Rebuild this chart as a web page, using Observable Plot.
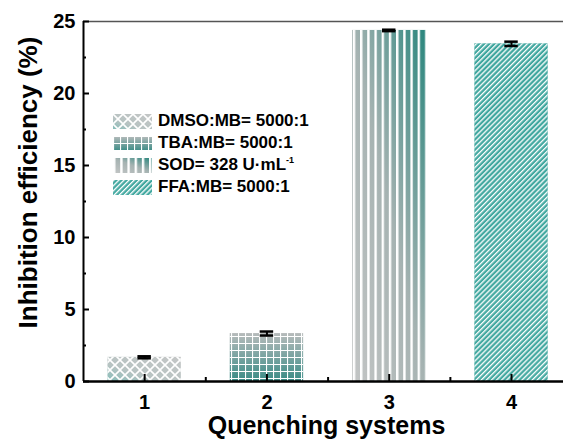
<!DOCTYPE html>
<html><head><meta charset="utf-8">
<script src="https://cdn.jsdelivr.net/npm/d3@7"></script>
<script src="https://cdn.jsdelivr.net/npm/@observablehq/plot@0.6"></script>
<style>
body{margin:0;background:#fff;font-family:"Liberation Sans",Arial,sans-serif}
#wrap{position:relative;width:563px;height:441px;overflow:hidden}
#legend{position:absolute;left:113px;top:110px;font-weight:bold;font-size:17px;color:#000}
.row{display:flex;align-items:center;height:22px;white-space:nowrap}
.row svg{margin-right:6px;flex:none}
sup{font-size:9px;vertical-align:7px}
</style></head><body>
<svg width="0" height="0" style="position:absolute">
<defs>
  <linearGradient id="grad1" x1="0" y1="1" x2="1" y2="0">
    <stop offset="0" stop-color="#86bdb9"/><stop offset="0.35" stop-color="#b7c3c2"/><stop offset="1" stop-color="#c4c6c6"/>
  </linearGradient>
  <linearGradient id="grad2" x1="0" y1="0" x2="0" y2="1">
    <stop offset="0" stop-color="#b7bbbb"/><stop offset="1" stop-color="#3a8c86"/>
  </linearGradient>
  <linearGradient id="grad3" x1="0" y1="1" x2="1" y2="0">
    <stop offset="0" stop-color="#c3c5c5"/><stop offset="0.5" stop-color="#a6b3b2"/><stop offset="1" stop-color="#2a867d"/>
  </linearGradient>
  <linearGradient id="grad4" x1="0" y1="0" x2="0" y2="1">
    <stop offset="0" stop-color="#3fa69e"/><stop offset="1" stop-color="#46aaa2"/>
  </linearGradient>
  <pattern id="pat1" patternUnits="userSpaceOnUse" width="10" height="10">
    <path d="M0,0L10,10M10,0L0,10" stroke="#fff" stroke-width="1.6" fill="none"/>
  </pattern>
  <pattern id="pat2" patternUnits="userSpaceOnUse" width="7" height="7">
    <path d="M0,0H7M0,0V7" stroke="#fff" stroke-width="2.2" fill="none"/>
  </pattern>
  <pattern id="pat3" patternUnits="userSpaceOnUse" width="7.2" height="10">
    <rect x="0" y="0" width="2.4" height="10" fill="#fff"/>
  </pattern>
  <pattern id="pat4" patternUnits="userSpaceOnUse" width="3.6" height="10" patternTransform="rotate(45)">
    <rect x="0" y="0" width="1.3" height="10" fill="#fff"/>
  </pattern>
</defs>
</svg>
<div id="wrap"><div id="legend"></div></div>
<script>
const systems = [1, 2, 3, 4];
const efficiency = [1.68, 3.33, 24.38, 23.45];
const errors = [0.07, 0.14, 0.05, 0.15];
const legendLabels = ["DMSO:MB= 5000:1", "TBA:MB= 5000:1", "SOD= 328 U·mL<sup>-1</sup>", "FFA:MB= 5000:1"];
const yTicks = [0, 5, 10, 15, 20, 25];
const yMinor = [2.5, 7.5, 12.5, 17.5, 22.5];
const xMinor = [1.5, 2.5, 3.5];

const data = systems.map((s, i) => ({s, v: efficiency[i], e: errors[i], grad: `url(#grad${i+1})`, pat: `url(#pat${i+1})`}));
const hw = 0.3, cap = 0.055;

const chart = Plot.plot({
  width: 563, height: 441,
  marginLeft: 83, marginTop: 21, marginBottom: 60, marginRight: 0,
  x: {domain: [0.5, 4.425]},
  y: {domain: [0, 25]},
  color: {type: "identity"},
  style: {fontFamily: "'Liberation Sans', Arial, sans-serif", fontWeight: "bold", color: "#000", background: "#fff"},
  marks: [
    Plot.rectY(data, {x1: d => d.s - hw, x2: d => d.s + hw, y1: 0, y2: "v", fill: "grad"}),
    Plot.rectY(data, {x1: d => d.s - hw, x2: d => d.s + hw, y1: 0, y2: "v", fill: "pat"}),
    Plot.ruleX(data, {x: "s", y1: d => d.v - d.e, y2: d => d.v + d.e, strokeWidth: 2, stroke: "#000"}),
    Plot.ruleY(data, {y: d => d.v + d.e, x1: d => d.s - cap, x2: d => d.s + cap, strokeWidth: 2.5, stroke: "#000"}),
    Plot.ruleY(data, {y: d => d.v - d.e, x1: d => d.s - cap, x2: d => d.s + cap, strokeWidth: 2.5, stroke: "#000"}),
    Plot.ruleY([25], {stroke: "#555", strokeWidth: 1.5}),
    Plot.ruleX([0.5], {stroke: "#000", strokeWidth: 2}),
    Plot.ruleY([0], {stroke: "#000", strokeWidth: 2.5}),
    Plot.axisY({ticks: yTicks, tickSize: 0, tickPadding: 8, fontSize: 20, label: null}),
    Plot.axisY({ticks: yTicks, tickSize: 6, dx: 6, text: null, strokeWidth: 2, label: null}),
    Plot.axisY({ticks: yMinor, tickSize: 3, dx: 3, text: null, strokeWidth: 2, label: null}),
    Plot.axisX({ticks: systems, tickFormat: "d", tickSize: 0, tickPadding: 13, fontSize: 20, label: null}),
    Plot.axisX({ticks: systems, tickSize: 7, dy: -7, text: null, strokeWidth: 2, label: null}),
    Plot.axisX({ticks: xMinor, tickSize: 4, dy: -4, text: null, strokeWidth: 2, label: null}),
    Plot.text(["Inhibition efficiency (%)"], {frameAnchor: "left", textAnchor: "middle", rotate: -90, dx: -55, dy: -19, fontSize: 26, fontWeight: "bold", fill: "#000"}),
    Plot.text(["Quenching systems"], {frameAnchor: "bottom", textAnchor: "middle", dx: 3, dy: 52, fontSize: 25, fontWeight: "bold", fill: "#000"})
  ]
});
document.getElementById("wrap").prepend(chart);

const legend = document.getElementById("legend");
legendLabels.forEach((lab, i) => {
  const row = document.createElement("div");
  row.className = "row";
  row.innerHTML = `<svg width="39" height="15"><rect width="39" height="15" fill="url(#grad${i+1})"/><rect width="39" height="15" fill="url(#pat${i+1})"/></svg><span>${lab}</span>`;
  legend.appendChild(row);
});
</script>
</body></html>
